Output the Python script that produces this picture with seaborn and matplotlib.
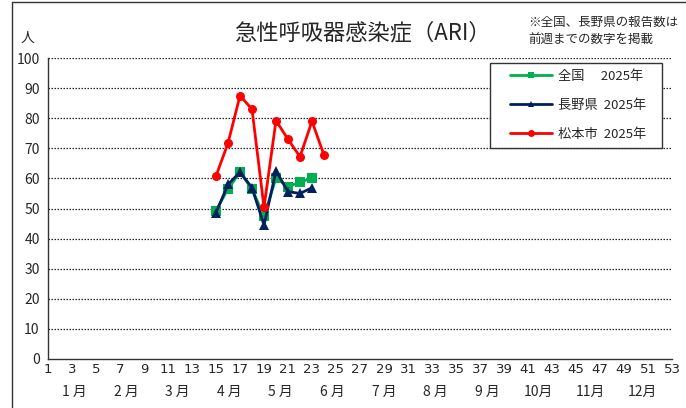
import matplotlib
matplotlib.use("Agg")
import matplotlib.pyplot as plt
import matplotlib.lines as mlines
import matplotlib.patches as mpatches
import seaborn as sns
import pandas as pd

weeks_national = [15, 16, 17, 18, 19, 20, 21, 22, 23]
national = [49.3, 56.5, 62.0, 56.5, 47.5, 60.0, 57.3, 58.7, 60.2]
weeks_nagano = [15, 16, 17, 18, 19, 20, 21, 22, 23]
nagano = [48.6, 58.0, 62.1, 56.9, 44.5, 62.5, 55.6, 55.0, 56.9]
weeks_matsumoto = [15, 16, 17, 18, 19, 20, 21, 22, 23, 24]
matsumoto = [60.8, 71.7, 87.5, 83.0, 50.4, 79.2, 73.0, 67.2, 79.0, 67.7]

series_labels = ["全国　 2025年", "長野県  2025年", "松本市  2025年"]
month_labels = ["1 月", "2 月", "3 月", "4 月", "5 月", "6 月", "7 月", "8 月", "9 月", "10月", "11月", "12月"]
title = "急性呼吸器感染症（ARI）"
note = "※全国、長野県の報告数は\n前週までの数字を掲載"
y_unit = "人"

sns.set_theme(style="white")
plt.rcParams['font.family'] = ['Noto Sans CJK JP', 'DejaVu Sans']

W, H = 686, 408
fig = plt.figure(figsize=(W / 100, H / 100), dpi=100)
ax = fig.add_axes([48/W, 49/H, 624/W, 301/H])

colors = ["#00B050", "#002060", "#FF0000"]
markers = ["s", "^", "o"]
msizes = [7.5, 6.5, 6.5]
data = [(weeks_national, national), (weeks_nagano, nagano), (weeks_matsumoto, matsumoto)]
for (wk, vals), c, m, ms, lab in zip(data, colors, markers, msizes, series_labels):
    df = pd.DataFrame({"week": wk, "value": vals})
    sns.lineplot(data=df, x="week", y="value", ax=ax, color=c, marker=m,
                 markersize=ms, markeredgewidth=0, linewidth=2, label=lab, legend=False)

ax.set_xlim(1, 53)
ax.set_ylim(0, 100)
ax.set_xticks(range(1, 54))
ax.set_xticklabels([str(w) if w % 2 == 1 else "" for w in range(1, 54)], fontsize=9.5,
                   family=['Liberation Sans Narrow', 'DejaVu Sans'])
ax.set_yticks(range(0, 101, 10))
ax.set_yticklabels([str(v) for v in range(0, 101, 10)], fontsize=10)
ax.tick_params(axis='x', direction='in', length=3, width=1, color='#333333', pad=3)
ax.tick_params(axis='y', length=0, pad=6)
ax.set_xlabel("")
ax.set_ylabel("")
for yv in range(10, 101, 10):
    ax.axhline(yv, color='#222222', linestyle=(0, (1.2, 1.2)), linewidth=0.9, zorder=0)
for s in ["top", "right"]:
    ax.spines[s].set_visible(False)
for s in ["left", "bottom"]:
    ax.spines[s].set_color('#333333')
    ax.spines[s].set_linewidth(1)

for i, ml in enumerate(month_labels):
    ax.text(3.2 + i * 4.3, -11, ml, ha='center', va='center', fontsize=10,
            transform=ax.transData, clip_on=False)

fig.text(362/W, 1 - 33/H, title, ha='center', va='center', fontsize=16)
fig.text(28/W, 1 - 38/H, y_unit, ha='center', va='center', fontsize=10)
fig.text(528/W, 1 - 31/H, note, ha='left', va='center', fontsize=9, linespacing=1.5)

# legend frame drawn as a rectangle, entries placed inside it
fig.add_artist(mpatches.Rectangle((490/W, 1 - 148/H), 172/W, 85/H, transform=fig.transFigure,
                                  facecolor='white', edgecolor='#333333', linewidth=1, zorder=3))
handles = [mlines.Line2D([], [], color=c, marker=m, markersize=5, linewidth=2, markeredgewidth=0)
           for c, m in zip(colors, markers)]
leg = fig.legend(handles, series_labels, loc='upper left', bbox_to_anchor=(510/W, 1 - 70/H),
                 borderaxespad=0, frameon=False, fontsize=9.5, handlelength=3.2,
                 labelspacing=1.2, borderpad=0.0, handletextpad=0.4)
leg.set_zorder(4)

fig.add_artist(mlines.Line2D([12/W, 12/W], [0, 1 - 2/H], transform=fig.transFigure, color='#333333', linewidth=1))
fig.add_artist(mlines.Line2D([12/W, 1], [1 - 2/H, 1 - 2/H], transform=fig.transFigure, color='#333333', linewidth=1))

fig.savefig("out.png", dpi=100)
